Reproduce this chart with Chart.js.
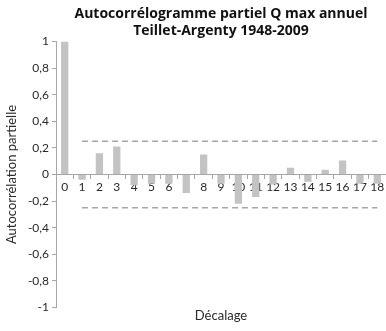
<!DOCTYPE html>
<html>
<head>
<meta charset="utf-8">
<script src="https://cdn.jsdelivr.net/npm/chart.js@4.4.1/dist/chart.umd.min.js"></script>
<style>
  html, body { margin: 0; padding: 0; background: #fff; overflow: hidden; }
  #wrap { width: 386px; height: 331px; }
</style>
</head>
<body>
<div id="wrap"><canvas id="pacfChart"></canvas></div>
<script>
// lags and partial autocorrelation values
var lags = ['0', '1', '2', '3', '4', '5', '6', '7', '8', '9', '10', '11', '12', '13', '14', '15', '16', '17', '18'];
var pacf = [1, -0.04, 0.16, 0.21, -0.08, -0.07, -0.07, -0.14, 0.15, -0.07, -0.22, -0.17, -0.075, 0.05, -0.055, 0.035, 0.105, -0.07, -0.07];
// confidence bounds (dashed), starting at lag 1
var upperBound = [null, 0.25, 0.25, 0.25, 0.25, 0.25, 0.25, 0.25, 0.25, 0.25, 0.25, 0.25, 0.25, 0.25, 0.25, 0.25, 0.25, 0.25, 0.25];
var lowerBound = [null, -0.25, -0.25, -0.25, -0.25, -0.25, -0.25, -0.25, -0.25, -0.25, -0.25, -0.25, -0.25, -0.25, -0.25, -0.25, -0.25, -0.25, -0.25];

var fontFamily = "Lato, 'Open Sans', sans-serif";
var textColor = "#2a2a2a";
var axisColor = "#a6a6a6";

var chartElement = document.getElementById("pacfChart").getContext('2d');

var chartObject = new Chart(chartElement, {
    type: 'bar',
    data: {
        labels: lags,
        datasets: [{
            data: pacf,
            backgroundColor: "#c3c3c3",
            borderWidth: 0,
            categoryPercentage: 1,
            barPercentage: 0.42,
            order: 2
        }, {
            type: 'line',
            data: upperBound,
            borderColor: "#a6a6a6",
            borderWidth: 1.5,
            borderDash: [6, 4],
            pointRadius: 0,
            fill: false,
            order: 1
        }, {
            type: 'line',
            data: lowerBound,
            borderColor: "#a6a6a6",
            borderWidth: 1.5,
            borderDash: [6, 4],
            pointRadius: 0,
            fill: false,
            order: 1
        }]
    },
    options: {
        responsive: true,
        maintainAspectRatio: false,
        animation: false,
        layout: {
            padding: { left: 4, right: 0, top: 0, bottom: 0 }
        },
        plugins: {
            legend: { display: false },
            tooltip: { enabled: false },
            title: {
                display: true,
                text: ['Autocorrélogramme partiel Q max annuel', 'Teillet-Argenty 1948-2009'],
                fullSize: false,
                color: "#111",
                font: { family: "'Open Sans', sans-serif", size: 14, weight: 'bold', lineHeight: 1.2 },
                padding: { top: 6, bottom: 2 }
            },
            subtitle: {
                display: true,
                position: 'bottom',
                text: 'Décalage',
                fullSize: false,
                color: textColor,
                font: { family: fontFamily, size: 13, lineHeight: 1.2 },
                padding: { top: 1, bottom: 7 }
            }
        },
        scales: {
            x: {
                position: { y: 0 },
                z: 1,
                grid: {
                    drawOnChartArea: false,
                    drawTicks: true,
                    tickLength: 4,
                    color: axisColor
                },
                border: { color: axisColor, width: 1 },
                ticks: {
                    color: textColor,
                    font: { family: fontFamily, size: 12 },
                    padding: 1,
                    maxRotation: 0,
                    autoSkip: false
                }
            },
            y: {
                min: -1,
                max: 1,
                afterFit: function (scale) { scale.width = 52; },
                grid: {
                    drawOnChartArea: false,
                    drawTicks: true,
                    tickLength: 4,
                    color: axisColor
                },
                border: { color: axisColor, width: 1 },
                ticks: {
                    stepSize: 0.2,
                    color: textColor,
                    font: { family: fontFamily, size: 12 },
                    padding: 3,
                    callback: function (value) {
                        return String(Math.round(value * 10) / 10).replace('.', ',');
                    }
                },
                title: {
                    display: true,
                    text: 'Autocorrélation partielle',
                    color: textColor,
                    font: { family: fontFamily, size: 13 },
                    padding: { top: 0, bottom: 0 }
                }
            }
        }
    }
});
</script>
</body>
</html>
